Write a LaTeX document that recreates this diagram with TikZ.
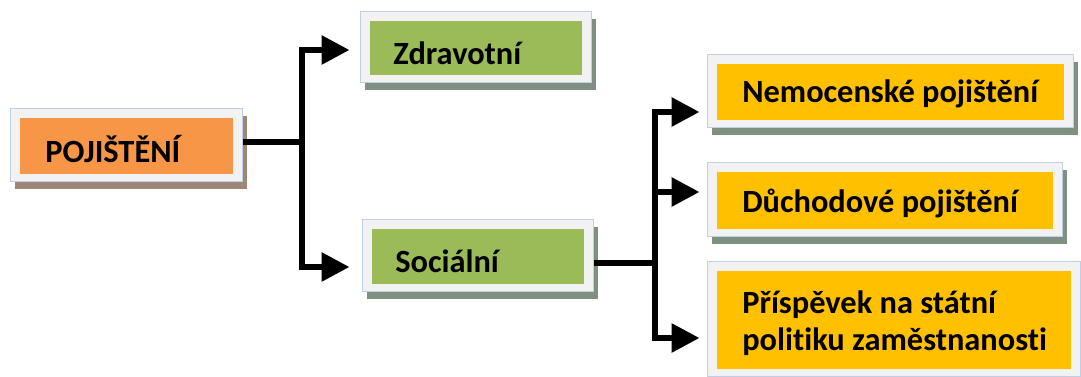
\documentclass[tikz,border=0pt]{standalone}
\usepackage{fontspec}
\setmainfont[Ligatures=NoCommon]{Carlito}
\usetikzlibrary{arrows.meta,shadows,calc}
\definecolor{cOrange}{HTML}{F79646}
\definecolor{cGreen}{HTML}{9BBB59}
\definecolor{cYellow}{HTML}{FFC000}
\definecolor{cFrame}{HTML}{F2F2F2}
\definecolor{cBorder}{HTML}{BDD0E8}
\definecolor{shOrange}{HTML}{A08676}
\definecolor{shGreen}{HTML}{7E9180}
\tikzset{
  frame/.style={rectangle, draw=cBorder, line width=0.75pt, fill=cFrame, inner sep=0pt,
    drop shadow={shadow xshift=3.75pt, shadow yshift=-5.25pt, fill=#1, opacity=1}},
  inner/.style={path picture={\fill[#1] ([xshift=7.5pt,yshift=-6.75pt]path picture bounding box.north west) rectangle ([xshift=-6.75pt,yshift=6pt]path picture bounding box.south east);}},
  label/.style={anchor=base west, inner sep=0pt, font=\fontsize{24.3}{27.75}\selectfont\bfseries, text=black},
  line/.style={line width=4.5pt, draw=black},
  arr/.style={line width=4.5pt, draw=black, -{Triangle[length=21pt,width=21pt]}, line join=miter},
}
\begin{document}
\begin{tikzpicture}[x=0.75pt,y=-0.75pt]
\useasboundingbox (0,0) rectangle (1081,377);
% boxes
\node[frame=shOrange, inner=cOrange, minimum width=232*0.75pt, minimum height=73*0.75pt] (poj) at (126,145.5) {};
\node[frame=shGreen, inner=cGreen, minimum width=231*0.75pt, minimum height=71*0.75pt] (zdr) at (475.5,47.5) {};
\node[frame=shGreen, inner=cGreen, minimum width=231*0.75pt, minimum height=72*0.75pt] (soc) at (477.5,256) {};
\node[frame=shGreen, inner=cYellow, minimum width=366*0.75pt, minimum height=73*0.75pt] (nem) at (890,91.5) {};
\node[frame=shGreen, inner=cYellow, minimum width=355*0.75pt, minimum height=74*0.75pt] (duch) at (884.5,200) {};
\node[frame=shGreen, inner=cYellow, minimum width=373*0.75pt, minimum height=115*0.75pt] (prisp) at (893.5,319.5) {};
% texts
\node[label] (poj-t) at (45,163) {POJIŠTĚNÍ};
\node[label] (zdr-t) at (393,65) {Zdravotní};
\node[label] (soc-t) at (395,273) {Sociální};
\node[label] (nem-t) at (742,103) {Nemocenské pojištění};
\node[label] (duch-t) at (742,213) {Důchodové pojištění};
\node[label, align=left] (prisp-t) at (742,350) {Příspěvek na státní\\politiku zaměstnanosti};
% connectors
\coordinate (j1) at (302,142);
\coordinate (j2) at (655,263);
\draw[line] (poj.east |- j1) -- (j1);
\draw[arr] (j1) |- ($(zdr.west)+(-10,2.5)$);
\draw[arr] (j1) |- ($(soc.west)+(-12,11)$);
\draw[line] (soc.east |- j2) -- (j2);
\draw[arr] (j2) |- ($(nem.west)+(-7,20.5)$);
\draw[arr] (j2) |- ($(duch.west)+(-7,-8)$);
\draw[arr] (j2) |- ($(prisp.west)+(-7,18.5)$);
\end{tikzpicture}
\end{document}
